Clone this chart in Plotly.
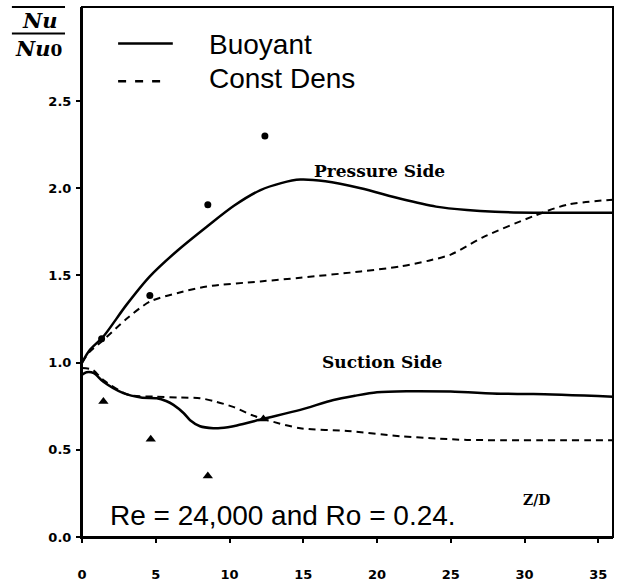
import plotly.graph_objects as go

# Z/D positions and Nu/Nu0 readings
buoy_press_x = [0, 0.5, 1.45, 3.0, 4.6, 6.5, 8.46, 10.3, 12.1, 13.5, 14.8, 16.5, 18.9, 21.6, 24.0, 26.1, 28.0, 30.6, 36.0]
buoy_press_y = [1.0, 1.07, 1.15, 1.33, 1.495, 1.645, 1.78, 1.90, 1.99, 2.03, 2.05, 2.04, 2.0, 1.94, 1.895, 1.875, 1.865, 1.86, 1.86]

cd_press_x = [0, 0.5, 1.45, 3.0, 4.6, 6.5, 8.46, 12.1, 14.8, 18.9, 21.6, 23.5, 25.0, 27.2, 30.6, 32.9, 36.0]
cd_press_y = [1.0, 1.06, 1.13, 1.25, 1.35, 1.40, 1.437, 1.466, 1.487, 1.523, 1.552, 1.585, 1.62, 1.72, 1.84, 1.906, 1.935]

buoy_suct_x = [0, 0.3, 0.8, 1.45, 2.8, 4.0, 5.07, 5.7, 6.2, 6.9, 7.33, 8.0, 8.9, 9.4, 10.5, 12.3, 14.8, 17.05, 18.5, 20.0, 22.0, 25.0, 28.4, 30.6, 36.0]
buoy_suct_y = [0.93, 0.945, 0.94, 0.89, 0.825, 0.80, 0.796, 0.78, 0.758, 0.71, 0.67, 0.635, 0.624, 0.625, 0.64, 0.678, 0.729, 0.786, 0.81, 0.83, 0.836, 0.834, 0.822, 0.82, 0.805]

cd_suct_x = [0, 0.7, 1.45, 3.0, 3.5, 5.0, 6.65, 8.0, 8.9, 10.3, 11.5, 12.5, 14.8, 18.0, 21.6, 24.0, 26.1, 36.0]
cd_suct_y = [0.97, 0.96, 0.90, 0.82, 0.81, 0.805, 0.80, 0.796, 0.78, 0.745, 0.70, 0.672, 0.624, 0.608, 0.578, 0.565, 0.557, 0.555]

# Measured points
press_pts_x = [1.33, 4.6, 8.53, 12.4]
press_pts_y = [1.137, 1.385, 1.906, 2.30]
suct_pts_x = [1.45, 4.66, 8.53, 12.3]
suct_pts_y = [0.777, 0.56, 0.35, 0.677]

x_ticks = [0, 5, 10, 15, 20, 25, 30, 35]
y_ticks = [0.0, 0.5, 1.0, 1.5, 2.0, 2.5]

SOLID = dict(color="black", width=2.5, shape="spline", smoothing=0.8)
DASHED = dict(color="black", width=2, dash="7px,5px", shape="spline", smoothing=0.8)

fig = go.Figure()
fig.add_trace(go.Scatter(x=buoy_press_x, y=buoy_press_y, mode="lines", line=SOLID, name="Buoyant"))
fig.add_trace(go.Scatter(x=cd_press_x, y=cd_press_y, mode="lines", line=DASHED, name="Const Dens"))
fig.add_trace(go.Scatter(x=buoy_suct_x, y=buoy_suct_y, mode="lines", line=SOLID, showlegend=False))
fig.add_trace(go.Scatter(x=cd_suct_x, y=cd_suct_y, mode="lines", line=DASHED, showlegend=False))
fig.add_trace(go.Scatter(x=press_pts_x, y=press_pts_y, mode="markers",
                         marker=dict(symbol="circle", size=7, color="black"), showlegend=False))
fig.add_trace(go.Scatter(x=suct_pts_x, y=suct_pts_y, mode="markers",
                         marker=dict(symbol="triangle-up", size=9, color="black"), showlegend=False))

X_RANGE = [0, 36.0]
Y_RANGE = [0, 3.04]
tick_font = dict(family="DejaVu Sans", size=13, color="black")
TICK = dict(ticklen=4, tickwidth=1.5, tickcolor="black", showgrid=False, zeroline=False)

fig.update_layout(
    width=623, height=588,
    margin=dict(l=82, r=10, t=7, b=51),
    paper_bgcolor="white", plot_bgcolor="white",
    showlegend=False,
    xaxis=dict(range=X_RANGE, tickvals=x_ticks, ticktext=[f"<b>{v}</b>" for v in x_ticks],
               ticks="outside", showline=True, linecolor="black", linewidth=2,
               tickfont=tick_font, ticklabelstandoff=20, **TICK),
    yaxis=dict(range=Y_RANGE, tickvals=y_ticks, ticktext=[f"<b>{v:.1f}</b>" for v in y_ticks],
               ticks="outside", showline=True, linecolor="black", linewidth=2,
               tickfont=tick_font, ticklabelstandoff=2, **TICK),
    # tick marks along the top and right frame edges
    xaxis2=dict(range=X_RANGE, overlaying="x", side="top", tickvals=x_ticks,
                showticklabels=False, ticks="outside", showline=False, **TICK),
    yaxis2=dict(range=Y_RANGE, overlaying="y", side="right", tickvals=y_ticks,
                showticklabels=False, ticks="outside", showline=False, **TICK),
)

# Plot frame
fig.add_shape(type="rect", xref="paper", yref="paper", x0=0, x1=1, y0=0, y1=1,
              line=dict(color="black", width=2), layer="above")

# Legend drawn as line samples plus labels
legend_font = dict(family="Liberation Sans", size=28, color="black")
fig.add_shape(type="line", xref="paper", yref="paper", x0=0.068, x1=0.171, y0=0.931, y1=0.931,
              line=dict(color="black", width=2.5))
fig.add_shape(type="line", xref="paper", yref="paper", x0=0.068, x1=0.153, y0=0.860, y1=0.860,
              line=dict(color="black", width=2.5, dash="8px,9px"))
fig.add_annotation(xref="paper", yref="paper", x=0.236, y=0.930, text="Buoyant", showarrow=False,
                   xanchor="left", yanchor="middle", font=legend_font)
fig.add_annotation(xref="paper", yref="paper", x=0.236, y=0.866, text="Const Dens", showarrow=False,
                   xanchor="left", yanchor="middle", font=legend_font)

# Curve labels
side_font = dict(family="DejaVu Serif", size=17, color="black")
fig.add_annotation(x=20.2, y=2.097, text="<b>Pressure Side</b>", showarrow=False, font=side_font)
fig.add_annotation(x=20.4, y=1.006, text="<b>Suction Side</b>", showarrow=False, font=side_font)

# Flow conditions and axis name
fig.add_annotation(x=1.75, y=0.126, text="Re = 24,000 and Ro = 0.24.", showarrow=False,
                   xanchor="left", yanchor="middle",
                   font=dict(family="Liberation Sans", size=28, color="black"))
fig.add_annotation(x=30.8, y=0.21, text="<b>Z/D</b>", showarrow=False,
                   font=dict(family="DejaVu Serif", size=14, color="black"))

# y-axis title: overlined fraction Nu / Nu0
frac_font = dict(family="DejaVu Serif", size=21, color="black")
fig.add_shape(type="line", xref="paper", yref="paper", x0=-0.132, x1=-0.032, y0=1.0, y1=1.0,
              line=dict(color="black", width=2))
fig.add_shape(type="line", xref="paper", yref="paper", x0=-0.132, x1=-0.032, y0=0.950, y1=0.950,
              line=dict(color="black", width=2))
fig.add_annotation(xref="paper", yref="paper", x=-0.080, y=0.975, text="<b><i>Nu</i></b>",
                   showarrow=False, xanchor="center", yanchor="middle", font=frac_font)
fig.add_annotation(xref="paper", yref="paper", x=-0.082, y=0.922,
                   text="<b><i>Nu</i><span style='font-size:17px'>0</span></b>",
                   showarrow=False, xanchor="center", yanchor="middle", font=frac_font)

fig.write_html("out.html")
